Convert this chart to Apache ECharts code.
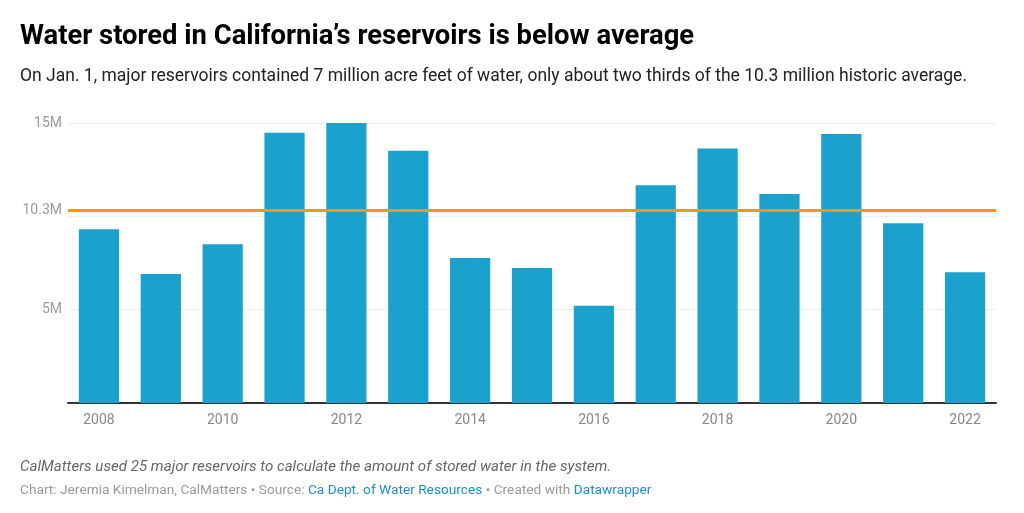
<!DOCTYPE html>
<html>
<head>
<meta charset="utf-8">
<script src="https://cdn.jsdelivr.net/npm/echarts@6/dist/echarts.min.js"></script>
<style>
  html, body { margin: 0; padding: 0; background: #fff; }
  #chart { width: 1024px; height: 513px; }
</style>
</head>
<body>
<div id="chart"></div>
<script>
// ===== 数据 =====
var years = ['2008', '2009', '2010', '2011', '2012', '2013', '2014', '2015',
             '2016', '2017', '2018', '2019', '2020', '2021', '2022'];
// 1月1日蓄水量（百万英亩英尺）
var stored = [9.31, 6.91, 8.5, 14.48, 15.07, 13.51, 7.77, 7.23,
              5.21, 11.67, 13.63, 11.2, 14.41, 9.63, 7.0];
var historicAvg = 10.3;
var yTicks = [5, 15];

var font = 'Roboto, "Noto Sans", sans-serif';

var chart = echarts.init(document.getElementById('chart'));

var option = {
  backgroundColor: '#fff',
  animation: false,
  textStyle: { fontFamily: font },
  title: [
    {
      text: 'Water stored in California\u2019s reservoirs is below average',
      left: 20, top: 24, padding: 0,
      textStyle: { fontFamily: font, fontSize: 27.4, fontWeight: 'bold', color: '#000' }
    },
    {
      text: 'On Jan. 1, major reservoirs contained 7 million acre feet of water, only about two thirds of the 10.3 million historic average.',
      left: 20, top: 68, padding: 0,
      textStyle: { fontFamily: font, fontSize: 17.5, fontWeight: 'normal', color: '#222' }
    },
    {
      text: 'CalMatters used 25 major reservoirs to calculate the amount of stored water in the system.',
      left: 20, top: 460, padding: 0,
      textStyle: { fontFamily: font, fontSize: 15.1, fontStyle: 'italic', fontWeight: 'normal', color: '#666' }
    },
    {
      text: '{g|Chart: Jeremia Kimelman, CalMatters \u2022 Source: }{b|Ca Dept. of Water Resources}{g| \u2022 Created with }{b|Datawrapper}',
      left: 20, top: 484, padding: 0,
      textStyle: {
        fontFamily: font, fontSize: 13.7, fontWeight: 'normal',
        rich: {
          g: { color: '#999', fontSize: 13.7, fontFamily: font },
          b: { color: '#1d8fc9', fontSize: 13.7, fontFamily: font }
        }
      }
    }
  ],
  grid: { left: 68, right: 28, top: 123, bottom: 110 },
  xAxis: {
    type: 'category',
    data: years,
    axisLine: { lineStyle: { color: '#333', width: 2 } },
    axisTick: { show: false },
    axisLabel: {
      interval: 1,
      color: '#888',
      fontSize: 14,
      fontFamily: font,
      margin: 10
    }
  },
  yAxis: {
    type: 'value',
    min: 0,
    max: 15,
    interval: 5,
    axisLine: { show: false },
    axisTick: { show: false },
    splitLine: { lineStyle: { color: '#eee', width: 1 } },
    axisLabel: {
      color: '#999',
      fontSize: 14,
      fontFamily: font,
      margin: 6,
      formatter: function (v) {
        return yTicks.indexOf(v) >= 0 ? v + 'M' : '';
      }
    }
  },
  series: [
    {
      type: 'bar',
      data: stored,
      barCategoryGap: '35%',
      itemStyle: { color: '#1aa1cc' },
      markLine: {
        silent: true,
        symbol: 'none',
        lineStyle: { color: '#fa9617', width: 3, type: 'solid', opacity: 1 },
        label: {
          show: true,
          position: 'start',
          distance: 6,
          color: '#999',
          fontSize: 14,
          fontFamily: font,
          formatter: historicAvg + 'M'
        },
        data: [{ yAxis: historicAvg }]
      }
    }
  ]
};

chart.setOption(option);
</script>
</body>
</html>
